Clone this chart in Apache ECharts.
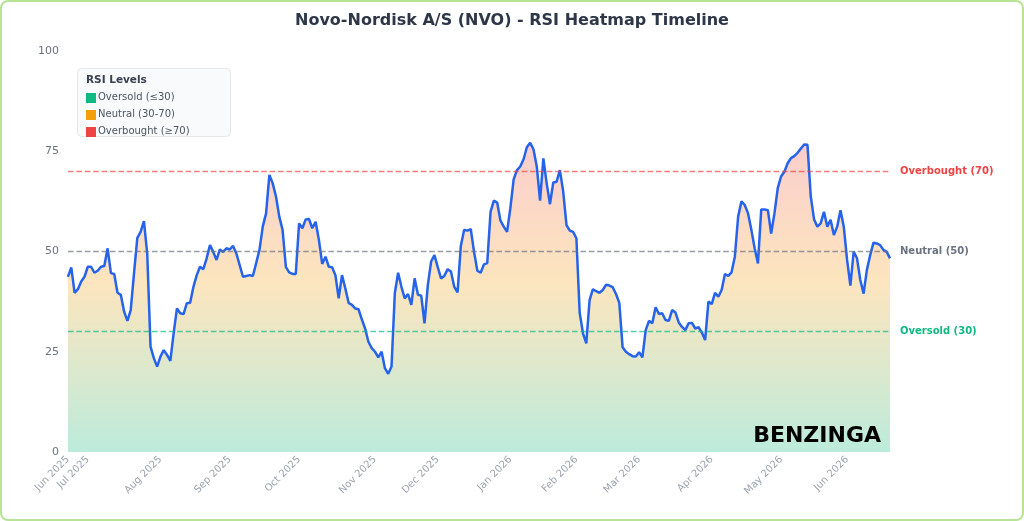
<!DOCTYPE html>
<html>
<head>
<meta charset="utf-8">
<title>Novo-Nordisk RSI Heatmap Timeline</title>
<script src="https://cdn.jsdelivr.net/npm/echarts@6/dist/echarts.min.js"></script>
<style>
    html, body { margin: 0; padding: 0; background: #fff; }
    #wrap { position: relative; width: 1024px; height: 521px; }
    #chart { width: 1024px; height: 521px; }
    #frame {
        position: absolute; left: 0; top: 0; right: 0; bottom: 0;
        border: 2px solid #b7e394; border-radius: 8px; pointer-events: none;
    }
</style>
</head>
<body>
<div id="wrap">
    <div id="chart"></div>
    <div id="frame"></div>
</div>
<script>
// trading days, Jun 23 2025 -> Jun 18 2026 (weekends + US market holidays skipped)
const startDate = '2025-06-23'
const endDate = '2026-06-18'
const holidays = ['2025-07-04', '2025-09-01', '2025-11-27', '2025-12-25', '2026-01-01',
    '2026-01-19', '2026-02-16', '2026-04-03', '2026-05-25']

const rsiValues = [
    43.7, 46.0, 39.7, 40.6, 42.5, 43.7, 46.2, 46.2, 44.7, 45.2,
    46.2, 46.4, 50.8, 44.6, 44.4, 39.7, 39.2, 35.0, 32.7, 35.4,
    44.6, 53.4, 54.9, 57.6, 49.5, 26.3, 23.4, 21.3, 23.8, 25.4,
    24.2, 22.7, 29.6, 35.8, 34.6, 34.4, 37.1, 37.2, 41.2, 44.1,
    46.2, 45.6, 48.3, 51.6, 49.9, 47.9, 50.5, 49.9, 50.8, 50.5,
    51.4, 49.5, 46.6, 43.7, 43.9, 44.1, 43.9, 47.1, 50.4, 56.2,
    59.5, 69.1, 67.0, 63.7, 58.7, 55.4, 46.1, 44.8, 44.4, 44.4,
    57.0, 55.8, 58.0, 58.1, 55.8, 57.4, 52.9, 46.9, 48.7, 46.2,
    46.1, 44.1, 38.3, 44.1, 40.8, 37.2, 36.7, 35.8, 35.6, 33.1,
    30.8, 27.5, 25.9, 25.0, 23.6, 25.0, 20.9, 19.5, 21.3, 39.6,
    44.7, 41.2, 38.3, 39.4, 36.7, 43.3, 39.2, 39.0, 32.1, 41.6,
    47.5, 49.1, 46.1, 43.3, 43.9, 45.6, 45.0, 41.2, 39.8, 51.4,
    55.4, 55.2, 55.6, 49.9, 45.2, 44.7, 46.8, 47.1, 59.9, 62.7,
    62.2, 57.7, 56.2, 54.9, 60.8, 68.0, 70.3, 71.2, 73.0, 76.0,
    77.1, 75.5, 71.2, 62.7, 73.2, 67.0, 61.8, 67.2, 67.4, 70.3,
    65.0, 56.6, 55.2, 54.9, 53.3, 34.7, 29.6, 27.1, 37.9, 40.6,
    40.1, 39.7, 40.4, 41.7, 41.5, 41.1, 39.4, 37.2, 26.1, 25.0,
    24.4, 23.9, 23.8, 24.9, 23.6, 30.4, 32.7, 32.1, 36.1, 34.4,
    34.6, 32.9, 32.7, 35.4, 34.8, 32.3, 31.2, 30.4, 32.1, 32.2,
    30.8, 31.1, 29.8, 27.9, 37.5, 36.9, 39.7, 38.7, 40.4, 44.4,
    43.9, 44.8, 48.7, 58.7, 62.5, 61.6, 59.5, 55.4, 50.8, 47.0,
    60.5, 60.5, 60.3, 54.5, 59.5, 65.8, 68.7, 69.9, 72.0, 73.3,
    73.8, 74.6, 75.7, 76.7, 76.6, 63.7, 58.0, 56.2, 57.0, 59.9,
    56.2, 57.9, 54.1, 56.2, 60.3, 56.2, 47.9, 41.5, 50.0, 48.3,
    42.9, 39.5, 45.4, 49.1, 52.2, 52.0, 51.6, 50.4, 49.9, 48.3
]

const yTicks = [0, 25, 50, 75, 100]
const levelValues = [70, 50, 30]
const levelNames = ['Overbought (70)', 'Neutral (50)', 'Oversold (30)']
const levelColors = ['#ef4444', '#6b7280', '#10b981']
const levelLineColors = ['rgba(239,68,68,0.7)', 'rgba(107,114,128,0.7)', 'rgba(16,185,129,0.7)']
const legendNames = ['Oversold (≤30)', 'Neutral (30-70)', 'Overbought (≥70)']
const legendColors = ['#10b981', '#f59e0b', '#ef4444']

const monthNames = ['Jan', 'Feb', 'Mar', 'Apr', 'May', 'Jun', 'Jul', 'Aug', 'Sep', 'Oct', 'Nov', 'Dec']

function pad(n) { return n < 10 ? '0' + n : '' + n }

function tradingDays(from, to) {
    const out = []
    const d = new Date(from + 'T00:00:00Z')
    const last = new Date(to + 'T00:00:00Z')
    while (d <= last) {
        const s = d.getUTCFullYear() + '-' + pad(d.getUTCMonth() + 1) + '-' + pad(d.getUTCDate())
        const wd = d.getUTCDay()
        if (wd !== 0 && wd !== 6 && holidays.indexOf(s) < 0) out.push(s)
        d.setUTCDate(d.getUTCDate() + 1)
    }
    return out
}

const dates = tradingDays(startDate, endDate)

function showLabel(idx) {
    if (idx === 0) return true
    return dates[idx].slice(0, 7) !== dates[idx - 1].slice(0, 7)
}

const font = 'DejaVu Sans'
const chart = echarts.init(document.getElementById('chart'))

// one empty series per level so each dashed line keeps its own colour
const levelSeries = levelValues.map((v, i) => ({
    name: levelNames[i],
    type: 'line',
    data: [],
    color: levelColors[i],
    markLine: {
        silent: true,
        symbol: 'none',
        itemStyle: { color: levelColors[i] },
        lineStyle: { color: levelLineColors[i], type: 'dashed', width: 1.4 },
        emphasis: { disabled: true },
        label: {
            show: true, position: 'end', distance: 10, formatter: levelNames[i],
            color: levelColors[i], fontWeight: 'bold', fontSize: 10, fontFamily: font
        },
        data: [{ yAxis: v, lineStyle: { color: levelLineColors[i] } }]
    }
}))

const legendGraphics = [{
    type: 'rect', left: 77, top: 68,
    shape: { width: 153, height: 68, r: 4 },
    style: { fill: '#f9fafb', stroke: '#e5e7eb', lineWidth: 1 }
}, {
    type: 'text', left: 86, top: 75,
    style: { text: 'RSI Levels', fill: '#374151', font: 'bold 10.5px "DejaVu Sans"' }
}]
legendNames.forEach((name, i) => {
    legendGraphics.push({
        type: 'rect', left: 86, top: 93 + i * 17,
        shape: { width: 10, height: 10 },
        style: { fill: legendColors[i] }
    })
    legendGraphics.push({
        type: 'text', left: 98, top: 92 + i * 17,
        style: { text: name, fill: '#4b5563', font: '10px "DejaVu Sans"' }
    })
})

const option = {
    animation: false,
    backgroundColor: '#ffffff',
    title: {
        text: 'Novo-Nordisk A/S (NVO) - RSI Heatmap Timeline',
        left: 'center', top: 8,
        textStyle: { color: '#2d3748', fontSize: 16, fontWeight: 'bold', fontFamily: font }
    },
    grid: { left: 68, right: 134, top: 51, bottom: 69 },
    xAxis: {
        type: 'category',
        data: dates,
        boundaryGap: false,
        axisLine: { show: false },
        axisTick: { show: false },
        splitLine: { show: false },
        axisLabel: {
            interval: showLabel,
            rotate: 45,
            margin: 6,
            color: '#9ca3af',
            fontSize: 10,
            fontFamily: font,
            formatter: v => monthNames[+v.slice(5, 7) - 1] + ' ' + v.slice(0, 4)
        }
    },
    yAxis: {
        type: 'value',
        min: yTicks[0],
        max: yTicks[yTicks.length - 1],
        interval: 25,
        axisLine: { show: false },
        axisTick: { show: false },
        splitLine: { show: false },
        axisLabel: { color: '#6b7280', fontSize: 11, fontFamily: font, margin: 9 }
    },
    series: [{
        name: 'RSI',
        type: 'line',
        data: rsiValues,
        symbol: 'none',
        z: 3,
        lineStyle: { color: '#2563eb', width: 2.5 },
        areaStyle: {
            color: new echarts.graphic.LinearGradient(0, 0, 0, 1, [
                { offset: 0, color: 'rgba(239,68,68,0.38)' },
                { offset: 0.45, color: 'rgba(245,158,11,0.38)' },
                { offset: 1, color: 'rgba(16,185,129,0.4)' }
            ])
        }
    }].concat(levelSeries),
    graphic: legendGraphics.concat([{
        type: 'text', right: 143, top: 425, z: 100,
        style: { text: 'BENZINGA', fill: '#000000', font: 'bold 22px "DejaVu Sans"' }
    }])
}

chart.setOption(option)
</script>
</body>
</html>
